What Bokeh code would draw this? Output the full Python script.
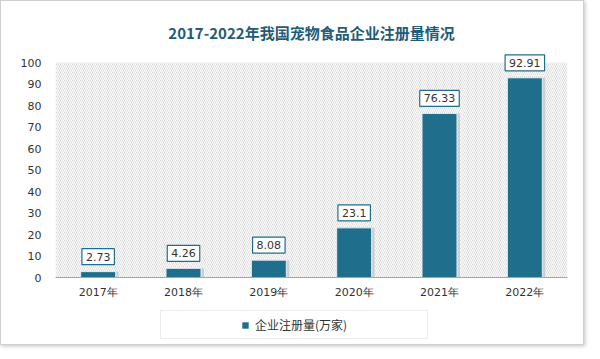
from bokeh.plotting import figure
from bokeh.layouts import column
from bokeh.models import (ColumnDataSource, FactorRange, Range1d, FixedTicker, BoxAnnotation,
                          Legend, LegendItem)
from bokeh.transform import dodge
from bokeh.core.properties import value
from bokeh.embed import file_html
from bokeh.resources import INLINE

years = ["2017年", "2018年", "2019年", "2020年", "2021年", "2022年"]
values = [2.73, 4.26, 8.08, 23.1, 76.33, 92.91]
labels = ["2.73", "4.26", "8.08", "23.1", "76.33", "92.91"]
y_ticks = [0, 10, 20, 30, 40, 50, 60, 70, 80, 90, 100]
title_text = "2017-2022年我国宠物食品企业注册量情况"
series_name = "企业注册量(万家)"

BAR = "#1f6e8c"
src = ColumnDataSource(dict(year=years, value=values, label=labels))

p = figure(width=582, height=303, x_range=FactorRange(*years), y_range=Range1d(0, 107),
           output_backend="svg", toolbar_location=None,
           min_border_left=54, min_border_right=16, min_border_top=46, min_border_bottom=27)
p.outline_line_color = None
p.xgrid.grid_line_color = None
p.ygrid.grid_line_color = None
p.x_range.range_padding = 0

p.title.text = title_text
p.title.align = "center"
p.title.text_font = "Noto Sans CJK SC"
p.title.text_font_size = "15px"
p.title.text_font_style = "bold"
p.title.text_color = "#1f5c7a"
p.title.standoff = 10

hatch = BoxAnnotation(bottom=0, top=100, fill_alpha=0, line_alpha=0,
                      hatch_pattern="\\", hatch_color="#d4d4d4", hatch_scale=4, hatch_weight=0.8,
                      level="underlay")
p.add_layout(hatch)

p.vbar(x=dodge("year", 0.035, range=p.x_range), top="value", width=0.41, source=src,
       fill_color="#bdbdbd", fill_alpha=0.6, line_color=None)
p.vbar(x="year", top="value", width=0.41, source=src,
       fill_color=BAR, line_color="#e6eef2", line_width=1)

p.text(x="year", y="value", text="label", source=src, text_align="center", text_baseline="bottom",
       y_offset=-7, text_font=value("DejaVu Sans"), text_font_size="11px", text_color="#333333",
       background_fill_color="white", border_line_color=BAR, border_line_width=1.2, padding=4)

p.yaxis.ticker = FixedTicker(ticks=y_ticks)
p.yaxis.axis_line_color = None
p.yaxis.major_tick_line_color = None
p.yaxis.minor_tick_line_color = None
p.yaxis.major_label_text_font = "DejaVu Sans"
p.yaxis.major_label_text_font_size = "11px"
p.yaxis.major_label_text_color = "#333333"
p.yaxis.major_label_standoff = 8

p.xaxis.axis_line_color = "#a6a6a6"
p.xaxis.major_tick_line_color = None
p.xaxis.major_label_text_font = "DejaVu Sans"
p.xaxis.major_label_text_font_size = "11px"
p.xaxis.major_label_text_color = "#333333"
p.xaxis.major_label_standoff = 2

# legend strip below the chart
lf = figure(width=582, height=40, output_backend="svg", toolbar_location=None, min_border=0,
            x_axis_location=None, y_axis_location=None,
            x_range=Range1d(10, 11), y_range=Range1d(10, 11))
lf.grid.visible = False
lf.outline_line_color = None
key = lf.vbar(x=[0], top=[1], width=0.4, fill_color=BAR, line_color=None)
sp1 = lf.scatter(x=[0], y=[0], fill_alpha=0, line_alpha=0)
sp2 = lf.scatter(x=[0], y=[0], fill_alpha=0, line_alpha=0)
legend = Legend(items=[LegendItem(label=" ", renderers=[sp1]),
                       LegendItem(label=series_name, renderers=[key]),
                       LegendItem(label=" ", renderers=[sp2])],
                orientation="horizontal", location=(105, 5),
                border_line_color="#dcdcdc", background_fill_color="white", padding=5, margin=0,
                spacing=0, label_width=61, label_height=16,
                glyph_width=8, glyph_height=8, label_standoff=6,
                label_text_font="Noto Sans CJK SC", label_text_font_size="12px", label_text_color="#333333")
lf.add_layout(legend)

page = column(p, lf, spacing=0,
              styles={"border": "1px solid #cfcfcf", "box-shadow": "1px 1px 4px rgba(0,0,0,0.25)"})

open("out.html", "w").write(file_html(page, INLINE))
